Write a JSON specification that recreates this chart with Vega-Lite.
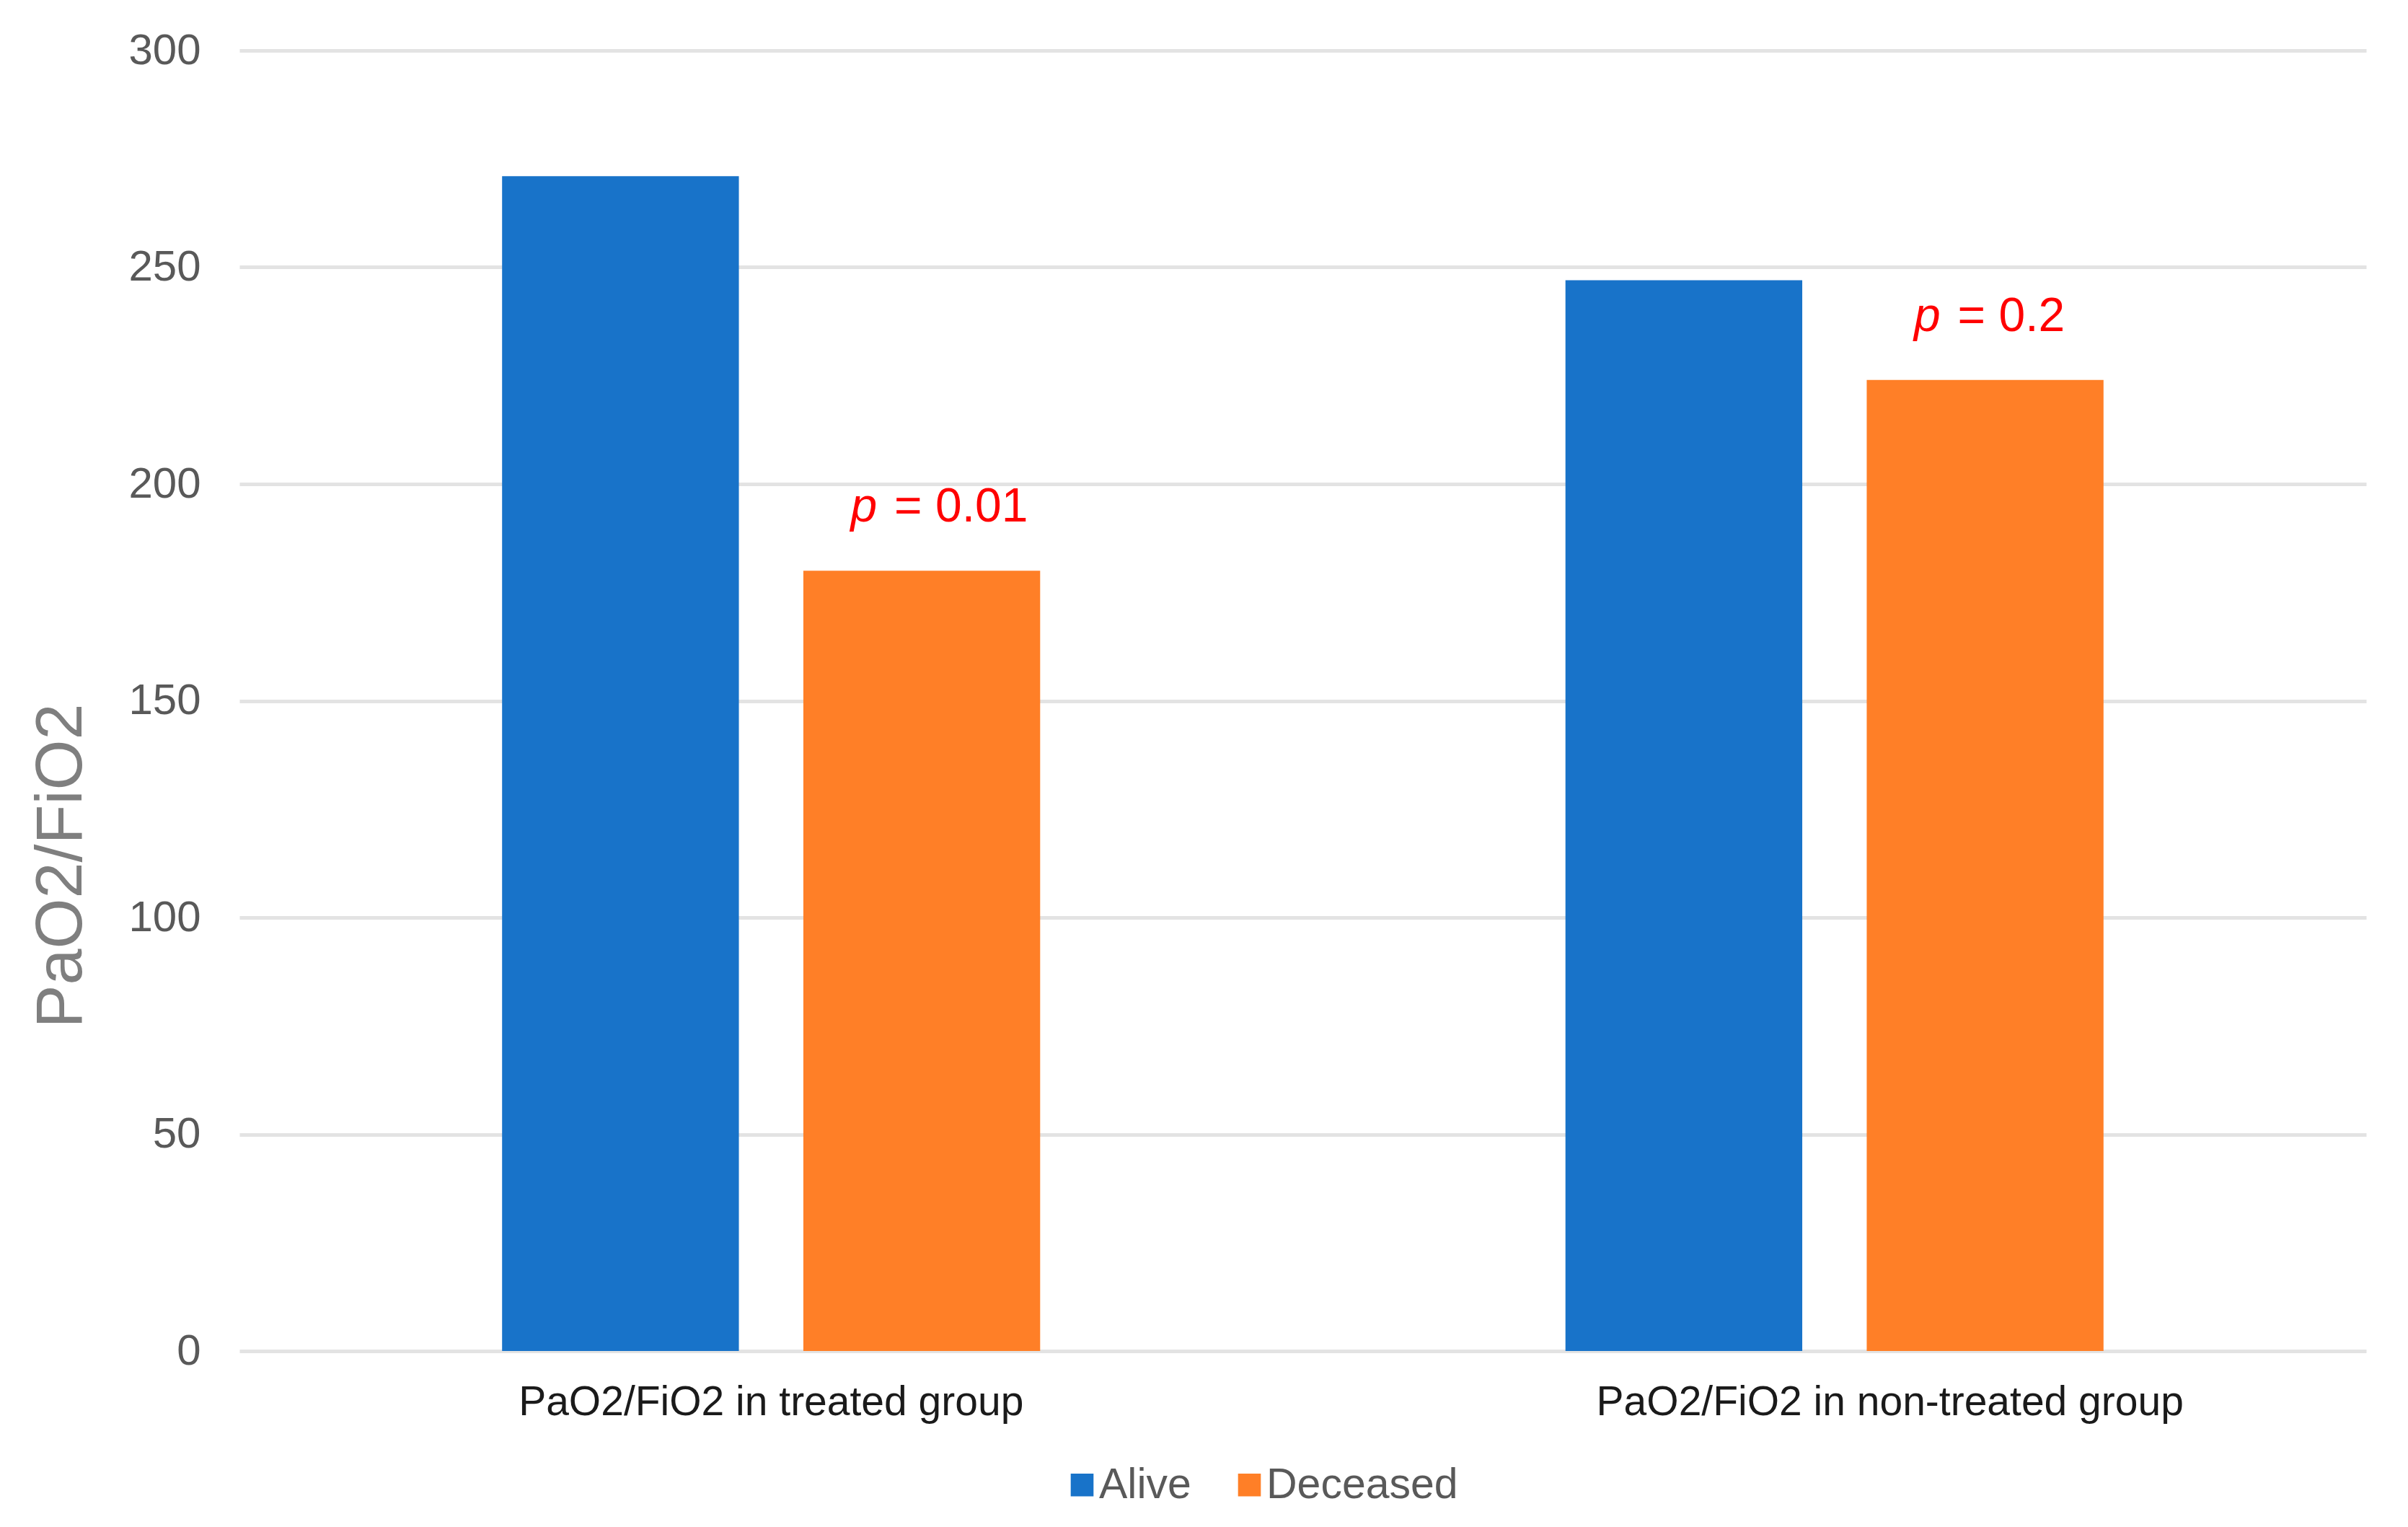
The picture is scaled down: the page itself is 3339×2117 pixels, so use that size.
{
  "$schema": "https://vega.github.io/schema/vega-lite/v6.json",
  "width": 2949,
  "height": 1803,
  "autosize": "none",
  "padding": {"left": 332, "top": 70, "right": 58, "bottom": 244},
  "background": "white",
  "config": {"view": {"stroke": null}, "font": "Liberation Sans"},
  "data": {
    "values": [
      {"group": "PaO2/FiO2 in treated group", "status": "Alive", "value": 271},
      {"group": "PaO2/FiO2 in treated group", "status": "Deceased", "value": 180, "p_sym": "p", "p_rest": "= 0.01"},
      {"group": "PaO2/FiO2 in non-treated group", "status": "Alive", "value": 247},
      {"group": "PaO2/FiO2 in non-treated group", "status": "Deceased", "value": 224, "p_sym": "p", "p_rest": "= 0.2"}
    ]
  },
  "encoding": {
    "x": {
      "field": "group",
      "type": "nominal",
      "sort": null,
      "scale": {"paddingInner": 0.494, "paddingOuter": 0.247},
      "axis": {
        "title": null,
        "labelAngle": 0,
        "labelFontSize": 57,
        "labelColor": "#1a1a1a",
        "labelBaseline": "alphabetic",
        "labelPadding": 88,
        "labelLimit": 0,
        "labelOffset": {"condition": {"test": "datum.value === 'PaO2/FiO2 in non-treated group'", "value": 77}, "value": 0},
        "ticks": false,
        "tickSize": 0,
        "domain": false,
        "grid": false
      }
    },
    "xOffset": {
      "field": "status",
      "type": "nominal",
      "scale": {"paddingInner": 0.214, "paddingOuter": 0}
    },
    "y": {
      "field": "value",
      "type": "quantitative",
      "scale": {"domain": [0, 300]},
      "axis": {
        "title": "PaO2/FiO2",
        "values": [0, 50, 100, 150, 200, 250, 300],
        "grid": true,
        "gridColor": "#e3e3e3",
        "gridWidth": 5,
        "domain": false,
        "ticks": false,
        "tickSize": 0,
        "labelFontSize": 60,
        "labelColor": "#595959",
        "labelPadding": 54,
        "titleFontSize": 90,
        "titleColor": "#7f7f7f",
        "titleFontWeight": "normal",
        "titleAngle": -90,
        "titleAlign": "center",
        "titleBaseline": "alphabetic",
        "titleX": -220,
        "titleY": 1130
      }
    }
  },
  "layer": [
    {
      "mark": {"type": "bar"},
      "encoding": {
        "color": {
          "field": "status",
          "type": "nominal",
          "scale": {"domain": ["Alive", "Deceased"], "range": ["#1873C9", "#FF7F27"]},
          "legend": {
            "title": null,
            "orient": "none",
            "legendX": 1139,
            "legendY": 1959,
            "direction": "horizontal",
            "symbolType": "square",
            "symbolSize": 1000,
            "symbolStrokeWidth": 0,
            "labelFontSize": 59,
            "labelColor": "#595959",
            "labelOffset": -6,
            "labelLimit": 0,
            "columnPadding": 51,
            "padding": 0
          }
        }
      }
    },
    {
      "transform": [{"filter": "datum.p_sym"}],
      "mark": {"type": "text", "align": "right", "baseline": "alphabetic", "dx": -62, "dy": -68, "fontStyle": "italic", "fontSize": 66, "color": "#FF0000"},
      "encoding": {"text": {"field": "p_sym"}}
    },
    {
      "transform": [{"filter": "datum.p_rest"}],
      "mark": {"type": "text", "align": "left", "baseline": "alphabetic", "dx": -38, "dy": -68, "fontSize": 66, "color": "#FF0000"},
      "encoding": {"text": {"field": "p_rest"}}
    }
  ]
}
